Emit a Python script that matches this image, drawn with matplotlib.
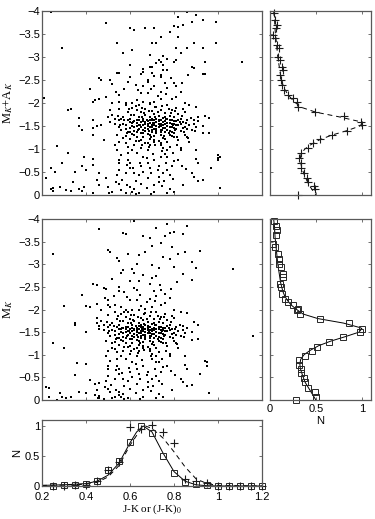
import numpy as np
import matplotlib
matplotlib.use("Agg")
import matplotlib.pyplot as plt

plt.rcParams['font.family'] = ['Liberation Sans', 'DejaVu Sans']
plt.rcParams['mathtext.fontset'] = 'stix'

# ---------------- data ----------------
top_pts = """
0.49,-3.74 0.60,-3.63 0.29,-3.20 0.54,-3.30 0.57,-3.09 0.54,-2.65 0.82,-3.87 0.86,-3.98 0.90,-3.91
0.93,-3.80 0.88,-3.76 0.99,-3.76 0.80,-3.67 0.84,-3.70 0.82,-3.65 0.62,-3.59 0.67,-3.63 0.71,-3.63
0.74,-3.43 0.78,-3.54 0.82,-3.43 0.70,-3.30 0.72,-3.30 0.99,-3.30 0.81,-3.20 0.83,-3.09 0.86,-3.20
0.89,-3.30 0.93,-3.20 0.61,-3.15 0.69,-3.04 0.75,-3.02 0.73,-2.93 0.77,-2.95 0.81,-2.93 0.94,-2.89
1.11,-2.89 0.89,-2.76 0.93,-2.63 0.94,-2.63 0.69,-2.78 0.75,-2.83 0.75,-2.72 0.77,-2.72 0.66,-2.67
0.70,-2.65 0.74,-2.57 0.68,-2.50 0.24,-3.98 0.60,-2.83 0.66,-2.75 0.70,-2.79 0.72,-2.86 0.74,-2.90
0.80,-2.90 0.88,-2.78 0.74,-2.61 0.71,-2.59 0.65,-2.64 0.60,-2.57 0.55,-2.66 0.46,-2.54 0.47,-2.50
0.51,-2.49 0.52,-2.41 0.42,-2.30 0.59,-2.46 0.68,-2.46 0.66,-2.37 0.71,-2.36 0.76,-2.43 0.80,-2.44
0.81,-2.36 0.77,-2.32 0.74,-2.25 0.65,-2.21 0.68,-2.21 0.83,-2.25 0.55,-2.17 0.49,-2.14 0.44,-2.07
0.43,-2.03 0.46,-2.08 0.21,-2.10 0.32,-1.85 0.51,-1.85 0.52,-2.01 0.55,-2.03 0.58,-1.99 0.61,-1.99
0.63,-2.07 0.66,-2.03 0.69,-1.99 0.71,-2.03 0.74,-2.08 0.79,-2.08 0.81,-2.14 0.85,-1.99 0.87,-1.96
0.90,-1.91 0.85,-1.81 0.94,-1.72 0.96,-1.67 0.89,-1.64 0.96,-1.34 0.93,-1.34 1.01,-0.83 1.00,-0.76
0.97,-0.58 0.90,-0.78 0.91,-0.69 0.90,-0.98 0.87,-1.16 0.86,-1.27 0.88,-0.47 0.89,-0.40 0.93,-0.33
1.01,-0.16 0.84,-0.22 0.83,-0.98 0.83,-1.02 0.37,-1.49 0.38,-1.41 0.43,-1.64 0.43,-1.45 0.45,-1.49
0.47,-1.52 0.48,-1.20 0.43,-1.30 0.27,-1.07 0.32,-0.92 0.39,-0.82 0.43,-0.78 0.38,-0.62 0.40,-0.54
0.35,-0.49 0.26,-0.51 0.24,-0.58 0.22,-0.36 0.28,-0.18 0.31,-0.11 0.33,-0.09 0.37,-0.14 0.38,-0.09
0.43,-0.05 0.24,-0.12 0.25,-0.09 0.46,-0.22 0.49,-0.36 0.50,-0.18 0.52,-0.07 0.55,-0.25 0.56,-0.11
0.58,-0.04 0.60,-0.18 0.62,-0.14 0.64,-0.04 0.65,-0.25 0.68,-0.36 0.71,-0.22 0.73,-0.40 0.73,-0.29
0.71,-0.07 0.77,-0.05 0.78,-0.14 0.80,-0.07 0.61,-0.07 0.54,-0.43 0.55,-0.54 0.58,-0.47 0.60,-0.58
0.62,-0.47 0.64,-0.43 0.66,-0.51 0.55,-0.76 0.55,-0.69 0.59,-0.76 0.60,-0.69 0.65,-0.62 0.68,-0.69
0.69,-0.58 0.73,-0.62 0.75,-0.47 0.77,-0.54 0.78,-0.43 0.79,-0.62 0.80,-0.73 0.82,-0.76 0.74,-0.83
0.76,-0.90 0.77,-0.98 0.78,-1.05 0.74,-1.09 0.75,-1.02 0.77,-0.83 0.71,-0.76 0.66,-0.83 0.63,-0.91
0.61,-0.98 0.59,-0.91 0.56,-0.87 0.54,-0.98 0.53,-1.09 0.55,-1.16 0.58,-1.12 0.59,-1.05 0.62,-1.09
0.65,-1.02 0.68,-0.98 0.69,-1.09 0.71,-1.16 0.67,-1.12 0.33,-1.87 0.20,-0.54 0.29,-0.70 0.34,-0.29
0.39,-0.17 0.20,-0.10 0.25,-0.15 0.45,-0.33 0.46,-0.48 0.43,-0.65 0.37,-1.67 1.00,-0.87 1.00,-0.80
0.91,-0.30 0.91,-1.70 0.52,-1.75 0.53,-1.55 0.54,-1.30 0.55,-1.88 0.55,-1.62 0.56,-1.42 0.57,-1.70
0.57,-1.25 0.58,-1.95 0.58,-1.52 0.59,-1.80 0.59,-1.36 0.60,-1.65 0.60,-1.46 0.60,-1.22 0.61,-1.90
0.61,-1.57 0.62,-1.74 0.62,-1.40 0.62,-1.30 0.63,-1.84 0.63,-1.62 0.63,-1.50 0.64,-1.95 0.64,-1.70
0.64,-1.44 0.64,-1.18 0.65,-1.80 0.65,-1.58 0.65,-1.35 0.66,-1.66 0.66,-1.52 0.66,-1.26 0.67,-1.88
0.67,-1.74 0.67,-1.46 0.67,-1.40 0.68,-1.60 0.68,-1.55 0.68,-1.32 0.68,-1.14 0.69,-1.98 0.69,-1.70
0.69,-1.48 0.69,-1.22 0.70,-1.82 0.70,-1.62 0.70,-1.53 0.70,-1.38 0.71,-1.76 0.71,-1.57 0.71,-1.44
0.71,-1.28 0.72,-1.92 0.72,-1.66 0.72,-1.50 0.72,-1.35 0.73,-1.72 0.73,-1.60 0.73,-1.47 0.73,-1.18
0.74,-1.85 0.74,-1.55 0.74,-1.42 0.74,-1.30 0.75,-1.68 0.75,-1.52 0.75,-1.24 0.76,-1.78 0.76,-1.60
0.76,-1.45 0.76,-1.36 0.77,-1.95 0.77,-1.65 0.77,-1.50 0.77,-1.15 0.78,-1.72 0.78,-1.56 0.78,-1.40
0.79,-1.84 0.79,-1.62 0.79,-1.48 0.79,-1.28 0.80,-1.70 0.80,-1.54 0.80,-1.34 0.81,-1.90 0.81,-1.60
0.81,-1.44 0.82,-1.76 0.82,-1.52 0.82,-1.20 0.83,-1.66 0.83,-1.40 0.84,-1.58 0.84,-1.86 0.85,-1.48
0.85,-1.30 0.86,-1.62 0.87,-1.52 0.88,-1.42 0.89,-1.55 0.90,-1.48 0.91,-1.60 0.93,-1.50 0.66,-1.60
0.67,-1.58 0.68,-1.50 0.69,-1.56 0.70,-1.47 0.70,-1.66 0.71,-1.52 0.72,-1.58 0.72,-1.44 0.73,-1.54
0.74,-1.62 0.74,-1.49 0.75,-1.58 0.75,-1.45 0.76,-1.54 0.77,-1.57 0.78,-1.47 0.78,-1.62 0.79,-1.55
0.80,-1.60 0.80,-1.45 0.81,-1.52 0.69,-1.64 0.71,-1.62 0.73,-1.64 0.65,-1.48 0.66,-1.42 0.67,-1.54
0.63,-1.56 0.64,-1.62 0.62,-1.60 0.61,-1.50 0.60,-1.58 0.59,-1.62 0.58,-1.44 0.57,-1.55 0.56,-1.66
0.62,-1.48 0.64,-1.52 0.76,-1.70 0.77,-1.42 0.79,-1.38 0.83,-1.54 0.84,-1.46 0.82,-1.64 0.86,-1.44
0.70,-1.42 0.68,-1.44 0.72,-1.40 0.74,-1.36 0.66,-1.34 0.63,-1.38 0.61,-1.32 0.69,-1.30 0.71,-1.20
0.74,-1.12 0.76,-1.22 0.78,-1.30 0.80,-1.26 0.65,-1.20 0.63,-1.26 0.60,-1.38 0.58,-1.28 0.55,-1.48
0.53,-1.65 0.51,-1.58 0.50,-1.70
0.615,-1.585 0.645,-1.515 0.675,-1.635 0.705,-1.575 0.735,-1.505 0.765,-1.655 0.795,-1.515
0.825,-1.585 0.655,-1.705 0.685,-1.385 0.715,-1.685 0.745,-1.405 0.775,-1.345 0.805,-1.405
0.835,-1.715 0.605,-1.735 0.635,-1.415 0.665,-1.775 0.695,-1.255 0.725,-1.795 0.755,-1.285
0.785,-1.785 0.815,-1.255 0.845,-1.365 0.575,-1.625 0.585,-1.355 0.555,-1.515 0.545,-1.725
0.595,-1.865 0.625,-1.935 0.655,-1.885 0.685,-1.835 0.715,-1.905 0.745,-1.945 0.775,-1.865
0.805,-1.835 0.855,-1.565 0.875,-1.665 0.895,-1.385 0.865,-1.245 0.625,-1.165 0.655,-1.085
0.685,-1.045 0.715,-1.095 0.745,-0.965 0.705,-0.885 0.675,-0.795 0.645,-0.705 0.615,-0.595
0.585,-0.655 0.565,-0.335 0.625,-0.305 0.695,-0.475 0.725,-0.545 0.755,-0.315 0.795,-0.355
0.675,-0.145 0.585,-0.225 0.535,-0.285 0.505,-0.045 0.625,-0.025 0.695,-0.025 0.745,-0.195
0.765,-0.685 0.795,-0.905 0.815,-1.085 0.835,-0.635 0.855,-0.555 0.725,-2.155 0.765,-2.195
0.695,-2.315 0.635,-2.285 0.785,-2.545 0.835,-2.445 0.865,-2.605 0.625,-2.395 0.575,-2.305
0.535,-2.245
"""

mid_pts = """
0.46,-3.78 0.25,-3.23 0.50,-3.31 0.51,-3.28 0.54,-3.14 0.59,-3.23 0.57,-3.69 0.58,-3.67 0.57,-2.87
0.55,-3.07 0.52,-2.67 0.55,-2.50 0.43,-2.56 0.45,-2.55 0.38,-2.32 0.48,-2.48 0.49,-2.46 0.40,-2.08
0.42,-2.06 0.30,-2.08 0.50,-2.10 0.51,-2.05 0.53,-2.10 0.35,-1.70 0.35,-1.66 0.40,-1.50 0.45,-1.81
0.46,-1.63 0.25,-1.26 0.30,-1.15 0.20,-1.04 0.36,-0.81 0.40,-0.79 0.35,-0.55 0.42,-0.44 0.46,-0.38
0.22,-0.29 0.23,-0.27 0.28,-0.15 0.20,-0.10 0.23,-0.07 0.29,-0.07 0.31,-0.04 0.33,-0.06 0.27,-0.01
0.46,-0.04 0.48,-0.02 0.37,-0.18 0.40,-0.15 0.44,-0.12 0.46,-0.08 0.62,-3.95 0.66,-3.62 0.69,-3.58
0.72,-3.80 0.77,-3.88 0.80,-3.72 0.84,-3.66 0.86,-3.85 0.76,-3.62 0.78,-3.70 0.70,-3.40 0.74,-3.47
0.79,-3.38 0.85,-3.28 0.92,-3.29 0.64,-3.20 0.67,-3.26 0.75,-3.15 0.78,-3.12 0.82,-3.22 0.88,-3.05
0.63,-3.00 0.70,-2.98 0.73,-2.92 0.80,-2.95 0.90,-2.92 1.07,-2.90 0.84,-2.78 0.88,-2.65 0.62,-2.80
0.66,-2.76 0.70,-2.70 0.72,-2.74 0.60,-2.62 0.64,-2.64 0.69,-2.57 0.62,-2.48 0.56,-2.80 0.61,-2.90
0.55,-2.40 0.63,-2.42 0.71,-2.40 0.74,-2.44 0.76,-2.34 0.72,-2.30 0.69,-2.24 0.60,-2.22 0.63,-2.20
0.78,-2.26 0.50,-2.20 0.45,-2.13 0.47,-2.00 0.56,-2.05 0.58,-1.98 0.61,-2.00 0.65,-2.08 0.67,-2.02
0.70,-2.05 0.74,-2.10 0.76,-2.14 0.80,-2.00 0.83,-1.95 0.86,-1.92 0.80,-1.82 0.89,-1.72 0.91,-1.66
0.84,-1.64 0.91,-1.35 0.88,-1.33 1.16,-1.42 0.47,-1.75 0.48,-1.55 0.49,-1.30 0.50,-1.88 0.50,-1.62
0.51,-1.42 0.52,-1.70 0.52,-1.25 0.53,-1.95 0.53,-1.52 0.54,-1.80 0.54,-1.36 0.55,-1.65 0.55,-1.46
0.55,-1.22 0.56,-1.90 0.56,-1.57 0.57,-1.74 0.57,-1.40 0.57,-1.30 0.58,-1.84 0.58,-1.62 0.58,-1.50
0.59,-1.95 0.59,-1.70 0.59,-1.44 0.59,-1.18 0.60,-1.80 0.60,-1.58 0.60,-1.35 0.61,-1.66 0.61,-1.52
0.61,-1.26 0.62,-1.88 0.62,-1.74 0.62,-1.46 0.62,-1.40 0.63,-1.60 0.63,-1.55 0.63,-1.32 0.63,-1.14
0.64,-1.98 0.64,-1.70 0.64,-1.48 0.64,-1.22 0.65,-1.82 0.65,-1.62 0.65,-1.53 0.65,-1.38 0.66,-1.76
0.66,-1.57 0.66,-1.44 0.66,-1.28 0.67,-1.92 0.67,-1.66 0.67,-1.50 0.67,-1.35 0.68,-1.72 0.68,-1.60
0.68,-1.47 0.68,-1.18 0.69,-1.85 0.69,-1.55 0.69,-1.42 0.69,-1.30 0.70,-1.68 0.70,-1.52 0.70,-1.24
0.71,-1.78 0.71,-1.60 0.71,-1.45 0.71,-1.36 0.72,-1.95 0.72,-1.65 0.72,-1.50 0.72,-1.15 0.73,-1.72
0.73,-1.56 0.73,-1.40 0.74,-1.84 0.74,-1.62 0.74,-1.48 0.74,-1.28 0.75,-1.70 0.75,-1.54 0.75,-1.34
0.76,-1.90 0.76,-1.60 0.76,-1.44 0.77,-1.76 0.77,-1.52 0.77,-1.20 0.78,-1.66 0.78,-1.40 0.79,-1.58
0.79,-1.86 0.80,-1.48 0.80,-1.30 0.81,-1.62 0.82,-1.52 0.83,-1.42 0.84,-1.55 0.85,-1.48 0.86,-1.60
0.88,-1.50 0.61,-1.60 0.62,-1.58 0.63,-1.50 0.64,-1.56 0.65,-1.47 0.65,-1.66 0.66,-1.52 0.67,-1.58
0.67,-1.44 0.68,-1.54 0.69,-1.62 0.69,-1.49 0.70,-1.58 0.70,-1.45 0.71,-1.54 0.72,-1.57 0.73,-1.47
0.73,-1.62 0.74,-1.55 0.75,-1.60 0.75,-1.45 0.76,-1.52 0.64,-1.64 0.66,-1.62 0.68,-1.64 0.60,-1.48
0.61,-1.42 0.62,-1.54 0.58,-1.56 0.59,-1.62 0.57,-1.60 0.56,-1.50 0.55,-1.58 0.54,-1.62 0.53,-1.44
0.52,-1.55 0.51,-1.66 0.57,-1.48 0.59,-1.52 0.71,-1.70 0.72,-1.42 0.74,-1.38 0.78,-1.54 0.79,-1.46
0.77,-1.64 0.81,-1.44 0.65,-1.42 0.63,-1.44 0.67,-1.40 0.69,-1.36 0.61,-1.34 0.58,-1.38 0.56,-1.32
0.64,-1.30 0.66,-1.20 0.69,-1.12 0.71,-1.22 0.73,-1.30 0.75,-1.26 0.60,-1.20 0.58,-1.26 0.55,-1.38
0.53,-1.28 0.50,-1.48 0.48,-1.65 0.46,-1.58 0.45,-1.70 0.50,-1.09 0.52,-1.16 0.53,-1.12 0.54,-1.05
0.57,-1.09 0.60,-1.02 0.63,-0.98 0.64,-1.09 0.66,-1.16 0.62,-1.12 0.49,-0.98 0.51,-0.87 0.54,-0.91
0.56,-0.98 0.58,-0.91 0.61,-0.83 0.66,-0.76 0.72,-0.83 0.70,-0.90 0.72,-0.98 0.73,-1.05 0.69,-1.09
0.70,-1.02 0.73,-0.83 0.75,-0.73 0.77,-0.76 0.50,-0.76 0.50,-0.69 0.54,-0.76 0.55,-0.69 0.60,-0.62
0.63,-0.69 0.64,-0.58 0.68,-0.62 0.70,-0.47 0.72,-0.54 0.73,-0.43 0.74,-0.62 0.49,-0.43 0.50,-0.54
0.53,-0.47 0.55,-0.58 0.57,-0.47 0.59,-0.43 0.61,-0.51 0.50,-0.25 0.51,-0.18 0.53,-0.07 0.55,-0.11
0.52,-0.04 0.55,-0.18 0.57,-0.14 0.59,-0.04 0.60,-0.25 0.63,-0.36 0.66,-0.22 0.68,-0.40 0.68,-0.29
0.66,-0.07 0.72,-0.05 0.73,-0.14 0.75,-0.07 0.56,-0.07 0.45,-0.22 0.44,-0.36 0.79,-0.22 0.83,-0.47
0.84,-0.40 0.88,-0.33 0.96,-0.16 0.85,-0.78 0.86,-0.69 0.85,-0.98 0.82,-1.16 0.81,-1.27 0.78,-0.98
0.78,-1.02 0.95,-0.83 0.95,-0.76 0.92,-0.58 0.86,-0.30 0.94,-0.87
0.565,-1.585 0.595,-1.515 0.625,-1.635 0.655,-1.575 0.685,-1.505 0.715,-1.655 0.745,-1.515
0.775,-1.585 0.605,-1.705 0.635,-1.385 0.665,-1.685 0.695,-1.405 0.725,-1.345 0.755,-1.405
0.785,-1.715 0.555,-1.735 0.585,-1.415 0.615,-1.775 0.645,-1.255 0.675,-1.795 0.705,-1.285
0.735,-1.785 0.765,-1.255 0.795,-1.365 0.525,-1.625 0.535,-1.355 0.505,-1.515 0.495,-1.725
0.545,-1.865 0.575,-1.935 0.605,-1.885 0.635,-1.835 0.665,-1.905 0.695,-1.945 0.725,-1.865
0.755,-1.835 0.805,-1.565 0.825,-1.665 0.845,-1.385 0.815,-1.245 0.575,-1.165 0.605,-1.085
0.635,-1.045 0.665,-1.095 0.695,-0.965 0.655,-0.885 0.625,-0.795 0.595,-0.705 0.565,-0.595
0.535,-0.655 0.515,-0.335 0.575,-0.305 0.645,-0.475 0.675,-0.545 0.705,-0.315 0.745,-0.355
0.625,-0.145 0.535,-0.225 0.485,-0.285 0.455,-0.045 0.575,-0.025 0.645,-0.025 0.695,-0.195
0.715,-0.685 0.745,-0.905 0.765,-1.085 0.785,-0.635 0.805,-0.555 0.675,-2.155 0.715,-2.195
0.645,-2.315 0.585,-2.285 0.735,-2.545 0.785,-2.445 0.815,-2.605 0.575,-2.395 0.525,-2.305
0.485,-2.245
"""

def parse(s):
    a = np.array([[float(v) for v in p.split(',')] for p in s.split()])
    return a[:, 0], a[:, 1]

top_jk, top_mk = parse(top_pts)
mid_jk, mid_mk = parse(mid_pts)

# luminosity function (top right, crosses)
lf_top_m = [-3.95, -3.80, -3.70, -3.62, -3.48, -3.41, -3.26, -3.19, -3.01, -2.93, -2.79, -2.72,
            -2.61, -2.50, -2.39, -2.28, -2.17, -2.10, -2.02, -1.91, -1.81, -1.72, -1.59, -1.52,
            -1.40, -1.30, -1.21, -1.12, -1.02, -0.91, -0.80, -0.69, -0.58, -0.47, -0.36, -0.29,
            -0.20, -0.12, 0.0]
lf_top_n = [0.044, 0.059, 0.073, 0.070, 0.033, 0.051, 0.081, 0.095, 0.088, 0.106, 0.131, 0.142,
            0.106, 0.117, 0.131, 0.153, 0.197, 0.252, 0.289, 0.306, 0.489, 0.810, 0.990, 0.999,
            0.836, 0.672, 0.544, 0.470, 0.409, 0.343, 0.317, 0.335, 0.343, 0.372, 0.398, 0.416,
            0.481, 0.489, 0.306]
fit_top_m = [-4.0, -3.8, -3.6, -3.4, -3.2, -3.0, -2.8, -2.6, -2.4, -2.3, -2.2, -2.1, -2.0, -1.9,
             -1.8, -1.7, -1.6, -1.55, -1.5, -1.4, -1.3, -1.2, -1.1, -1.0, -0.9, -0.8, -0.7, -0.6,
             -0.4, -0.2, 0.0]
fit_top_n = [0.04, 0.05, 0.055, 0.065, 0.075, 0.085, 0.10, 0.115, 0.14, 0.16, 0.19, 0.23, 0.28,
             0.35, 0.50, 0.75, 0.97, 1.0, 0.98, 0.84, 0.67, 0.54, 0.45, 0.38, 0.34, 0.33, 0.335,
             0.345, 0.38, 0.43, 0.50]

# luminosity function (middle right, squares)
lf_mid_m = [-3.95, -3.85, -3.75, -3.64, -3.45, -3.39, -3.23, -3.12, -3.01, -2.94, -2.79, -2.72,
            -2.57, -2.50, -2.35, -2.24, -2.17, -2.11, -2.02, -1.99, -1.89, -1.79, -1.70, -1.58,
            -1.50, -1.39, -1.29, -1.18, -1.08, -0.97, -0.88, -0.77, -0.69, -0.59, -0.49, -0.39,
            -0.27, -0.17, -0.07, 0.0]
lf_mid_n = [0.044, 0.063, 0.077, 0.070, 0.033, 0.050, 0.088, 0.095, 0.095, 0.117, 0.142, 0.142,
            0.106, 0.117, 0.131, 0.161, 0.197, 0.252, 0.306, 0.289, 0.325, 0.540, 0.861, 0.999,
            0.980, 0.800, 0.646, 0.515, 0.453, 0.380, 0.318, 0.318, 0.333, 0.336, 0.372, 0.380,
            0.416, 0.490, 0.497, 0.280]
fit_mid_m = [-4.0, -3.8, -3.6, -3.4, -3.2, -3.0, -2.8, -2.6, -2.4, -2.3, -2.2, -2.1, -2.0, -1.9,
             -1.8, -1.7, -1.6, -1.58, -1.5, -1.4, -1.3, -1.2, -1.1, -1.0, -0.9, -0.8, -0.7, -0.6,
             -0.4, -0.2, 0.0]
fit_mid_n = [0.04, 0.05, 0.055, 0.065, 0.075, 0.085, 0.10, 0.115, 0.14, 0.16, 0.19, 0.23, 0.29,
             0.36, 0.52, 0.80, 0.98, 1.0, 0.97, 0.82, 0.66, 0.53, 0.44, 0.37, 0.335, 0.325, 0.33,
             0.345, 0.38, 0.44, 0.50]

# colour distribution (bottom)
col_bins = [0.25, 0.30, 0.35, 0.40, 0.45, 0.50, 0.55, 0.60, 0.65, 0.70, 0.75, 0.80, 0.85, 0.90,
            0.95, 1.00, 1.05, 1.10, 1.15, 1.20]
col_n0 = [0.00, 0.01, 0.02, 0.04, 0.08, 0.26, 0.41, 0.73, 1.00, 0.89, 0.50, 0.22, 0.06, 0.03,
          0.01, 0.00, 0.00, 0.00, 0.00, 0.00]
col_n = [0.00, 0.00, 0.01, 0.01, 0.09, 0.27, 0.40, 0.99, 0.95, 1.01, 0.90, 0.72, 0.12, 0.09,
         0.05, 0.00, 0.00, 0.00, 0.00, 0.00]
fit_col_x = [0.20, 0.30, 0.40, 0.45, 0.50, 0.55, 0.60, 0.63, 0.66, 0.70, 0.75, 0.80, 0.85, 0.90,
             0.95, 1.00, 1.20]
fit_col_n0 = [0.01, 0.02, 0.04, 0.08, 0.18, 0.38, 0.72, 0.90, 1.0, 0.90, 0.55, 0.24, 0.08, 0.02,
              0.005, 0.0, 0.0]
fit_col_x2 = [0.20, 0.30, 0.40, 0.45, 0.50, 0.55, 0.60, 0.65, 0.67, 0.70, 0.75, 0.80, 0.85,
              0.90, 0.95, 1.00, 1.20]
fit_col_n = [0.01, 0.015, 0.03, 0.06, 0.15, 0.34, 0.68, 0.95, 1.0, 0.96, 0.80, 0.57, 0.32,
             0.12, 0.04, 0.01, 0.0]

# ---------------- figure ----------------
W, H = 375, 519
fig = plt.figure(figsize=(W / 100, H / 100), dpi=100)

def ax_px(l, t, r, b):
    return fig.add_axes([l / W, 1 - b / H, (r - l) / W, (b - t) / H])

ax1 = ax_px(42, 11, 262, 195)
ax2 = ax_px(270, 11, 371, 195)
ax3 = ax_px(42, 219, 262, 400)
ax4 = ax_px(270, 219, 371, 400)
ax5 = ax_px(42, 420, 262, 486)

def style(ax):
    for s in ax.spines.values():
        s.set_color('0.35')
        s.set_linewidth(0.9)
    ax.tick_params(direction='in', length=2.5, width=0.6, color='0.35',
                   top=True, right=True, labelsize=8, pad=1.5)

yt = np.arange(-4, 0.01, 0.5)
ylab = ['\u22124', '\u22123.5', '\u22123', '\u22122.5', '\u22122', '\u22121.5', '\u22121', '\u22120.5', '0']

for ax, xs, ys in ((ax1, top_jk, top_mk), (ax3, mid_jk, mid_mk)):
    ax.scatter(xs, ys, s=1.6, marker='s', c='k', linewidths=0)
    ax.set_xlim(0.2, 1.2)
    ax.set_ylim(0, -4)
    ax.set_xticks(np.arange(0.2, 1.21, 0.2))
    ax.set_xticklabels([])
    ax.set_yticks(yt)
    ax.set_yticklabels(ylab)
    style(ax)

ax1.set_ylabel('M$_K$+A$_K$', family='Liberation Serif', fontsize=9, labelpad=2)
ax3.set_ylabel('M$_K$', family='Liberation Serif', fontsize=9, labelpad=2)

for ax in (ax2, ax4):
    ax.set_xlim(0, 1.1)
    ax.set_ylim(0, -4)
    ax.set_xticks([0, 0.5, 1])
    ax.set_yticks(yt)
    ax.set_yticklabels([])
    style(ax)

ax2.plot(fit_top_n, fit_top_m, ls=(0, (5, 4)), color='k', lw=0.7)
ax2.plot(lf_top_n, lf_top_m, ls='none', marker='+', ms=6, mew=0.8, color='0.1', clip_on=False)
ax2.set_xticklabels([])

ax4.plot(fit_mid_n, fit_mid_m, '-', color='k', lw=0.7)
ax4.plot(lf_mid_n, lf_mid_m, ls='none', marker='s', ms=5, mew=0.7, mfc='none', mec='0.15', clip_on=False)
ax4.set_xticklabels(['0', '0.5', '1'])
ax4.tick_params(axis='x', pad=3)
ax4.set_xlabel('N', fontsize=8, labelpad=1)

ax5.plot(fit_col_x, fit_col_n0, '-', color='k', lw=0.7)
ax5.plot(fit_col_x2, fit_col_n, ls=(0, (5, 4)), color='k', lw=0.7)
ax5.plot(col_bins, col_n0, ls='none', marker='s', ms=5, mew=0.7, mfc='none', mec='0.15', clip_on=False)
ax5.plot(col_bins, col_n, ls='none', marker='+', ms=6, mew=0.8, color='0.1', clip_on=False)
ax5.set_xlim(0.2, 1.2)
ax5.set_ylim(0, 1.1)
ax5.set_xticks(np.arange(0.2, 1.21, 0.2))
ax5.set_xticklabels(['0.2', '0.4', '0.6', '0.8', '1', '1.2'])
ax5.set_yticks([0, 0.5, 1])
ax5.set_yticklabels(['0', '0.5', '1'])
style(ax5)
ax5.tick_params(axis='x', pad=4)
ax5.set_ylabel('N', fontsize=8, labelpad=2)
ax5.set_xlabel('J-K or (J-K)$_0$', family='Liberation Serif', fontsize=8, labelpad=1)

fig.savefig('out.png', dpi=100)
